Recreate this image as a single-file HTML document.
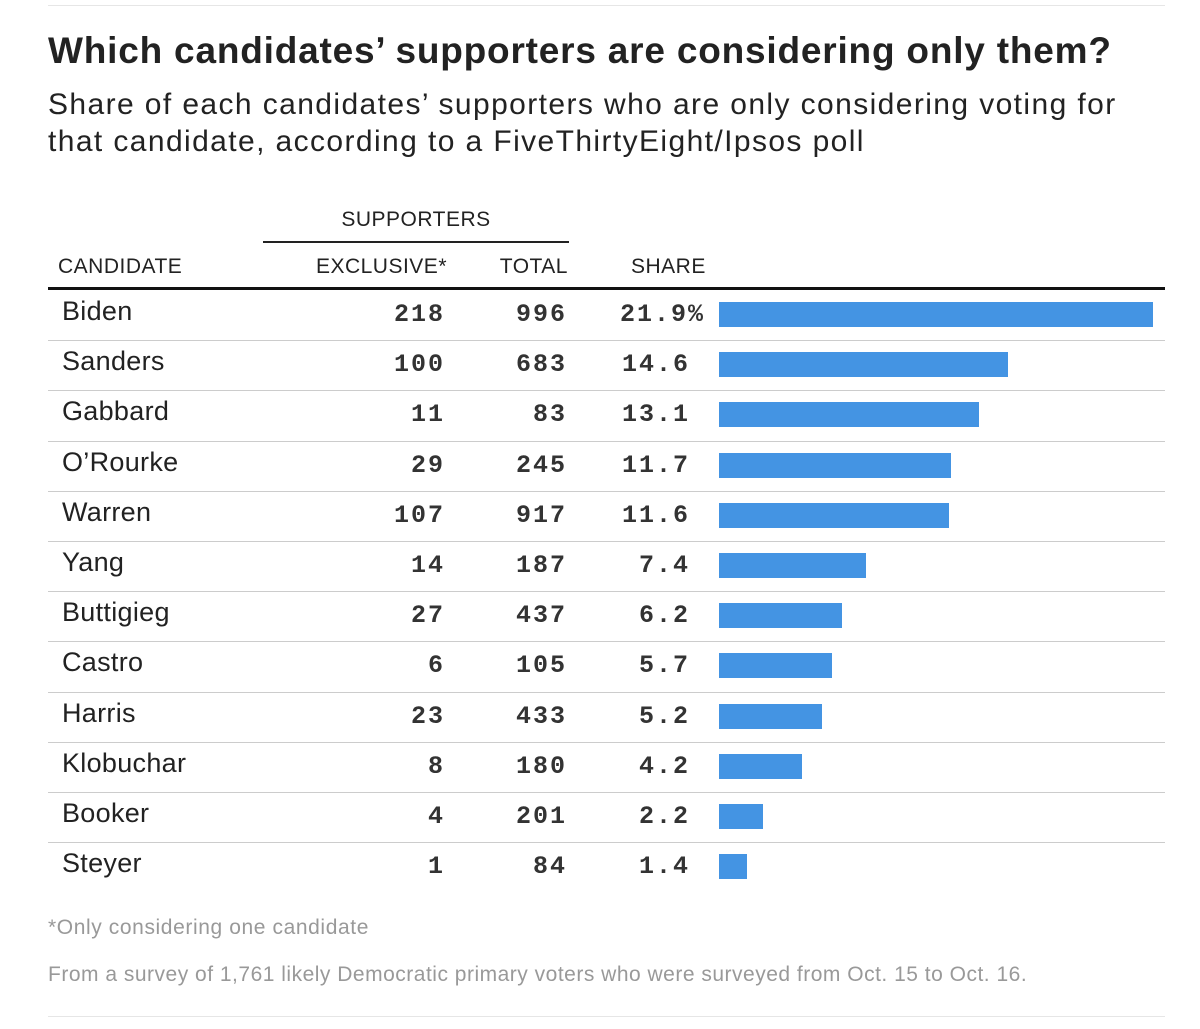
<!DOCTYPE html>
<html><head><meta charset="utf-8"><style>
body{margin:0;background:#fff;width:1200px;height:1029px;position:relative;font-family:"Liberation Sans",sans-serif;color:#222;overflow:hidden}
.abs{position:absolute;white-space:nowrap}
.hline{position:absolute;height:1px;background:#ccc}
.mono{font-family:"Liberation Mono","DejaVu Sans Mono",monospace;font-size:25px;letter-spacing:2px;font-weight:bold;color:#333}
.name{font-size:27px}
.hdr{font-size:21px;letter-spacing:0.5px}
</style></head><body>
<div class="hline" style="left:48px;top:5px;width:1117px;background:#e6e6e6"></div>
<div class="abs" style="left:48px;top:30px;font-size:37px;letter-spacing:0.8px;font-weight:bold;color:#222">Which candidates’ supporters are considering only them?</div>
<div class="abs" style="left:48px;top:86px;font-size:30px;letter-spacing:1.4px;line-height:37px;color:#222">Share of each candidates’ supporters who are only considering voting for<br>that candidate, according to a FiveThirtyEight/Ipsos poll</div>
<div class="abs hdr" style="left:263px;width:306px;text-align:center;top:208px">SUPPORTERS</div>
<div class="hline" style="left:263px;top:241px;width:306px;height:2px;background:#222"></div>
<div class="abs hdr" style="left:58px;top:255px">CANDIDATE</div>
<div class="abs hdr" style="left:300px;width:147px;text-align:right;top:255px">EXCLUSIVE*</div>
<div class="abs hdr" style="left:460px;width:108px;text-align:right;top:255px">TOTAL</div>
<div class="abs hdr" style="left:631px;top:255px">SHARE</div>
<div class="hline" style="left:48px;top:287px;width:1117px;height:3px;background:#111"></div>
<div id="rows"></div>
<div class="abs" style="left:48px;top:916px;font-size:21px;letter-spacing:0.6px;color:#999">*Only considering one candidate</div>
<div class="abs" style="left:48px;top:963px;font-size:21px;letter-spacing:0.5px;color:#999">From a survey of 1,761 likely Democratic primary voters who were surveyed from Oct. 15 to Oct. 16.</div>
<div class="hline" style="left:48px;top:1016px;width:1117px;background:#e6e6e6"></div>
<script>
const candidates=["Biden","Sanders","Gabbard","O’Rourke","Warren","Yang","Buttigieg","Castro","Harris","Klobuchar","Booker","Steyer"];
const exclusive=[218,100,11,29,107,14,27,6,23,8,4,1];
const total=[996,683,83,245,917,187,437,105,433,180,201,84];
const share=[21.9,14.6,13.1,11.7,11.6,7.4,6.2,5.7,5.2,4.2,2.2,1.4];
const x0=719,pxPer=434/21.9,top0=290,rowH=50.2;
const xs=v=>v*pxPer;
const root=document.getElementById('rows');
function add(html,style,cls){const d=document.createElement('div');d.className='abs '+(cls||'');d.style.cssText=style;d.textContent=html;root.appendChild(d);return d;}
candidates.forEach((c,i)=>{
  const y=top0+i*rowH;
  let e=add(c,`left:62px;top:${y+6}px;letter-spacing:0.3px`,'name');
  
  
  e=add(String(exclusive[i]),`left:300px;width:145px;text-align:right;top:${y+10}px`,'mono');
  
  
  e=add(String(total[i]),`left:440px;width:127px;text-align:right;top:${y+10}px`,'mono');
  
  
  e=add(share[i].toFixed(1)+(i==0?'%':''),`left:600px;width:${i==0?105:90}px;text-align:right;top:${y+10}px`,'mono');
  
  
  const b=document.createElement('div');
  b.className='abs';
  b.style.cssText=`left:${x0}px;top:${y+12}px;width:${xs(share[i])}px;height:25px;background:#4494e3`;
  
  
  root.appendChild(b);
  if(i<candidates.length-1){
    const l=document.createElement('div');
    l.className='hline';
    l.style.cssText=`left:48px;top:${y+rowH}px;width:1117px`;
    
    
    root.appendChild(l);
  }
});
</script>
</body></html>
